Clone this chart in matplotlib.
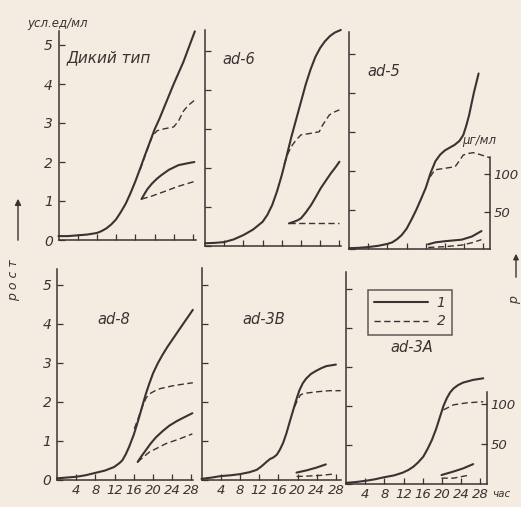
import matplotlib.pyplot as plt
from matplotlib.lines import Line2D

plt.switch_backend('agg')

W, H = 521, 507
PX_H = 4.8     # pixels per hour
PX_U = 39.0    # pixels per growth unit
PAPER = '#f4ece0'
INK = '#3a3332'

hours = [4, 8, 12, 16, 20, 24, 28]
y_ticks = [0, 1, 2, 3, 4, 5]
ug_ticks = [50, 100]

# ---------------- data (growth, arbitrary units / ml) ----------------
# wild type
wt_t = [0, 2, 4, 6, 8, 9, 10, 11, 12, 13, 14, 15, 16, 17, 18, 19, 20, 21, 22, 24, 26, 28.4]
wt_v = [0.1, 0.1, 0.12, 0.14, 0.18, 0.23, 0.3, 0.4, 0.53, 0.72, 0.93, 1.2, 1.5, 1.83,
        2.17, 2.5, 2.83, 3.1, 3.4, 4.0, 4.56, 5.35]
wt_d_t = [17, 18, 19.5, 20.5, 22, 24, 25, 26, 27, 28.3]
wt_d_v = [1.8, 2.15, 2.65, 2.8, 2.85, 2.9, 3.05, 3.3, 3.45, 3.58]
wt_low_t = [17.3, 18, 18.5, 19.5, 20.5, 21.5, 23, 25, 27, 28.3]
wt_low_v = [1.05, 1.2, 1.3, 1.45, 1.57, 1.67, 1.8, 1.92, 1.97, 2.0]
wt_lowd_t = [17.3, 19.3, 22, 24.8, 28.3]
wt_lowd_v = [1.05, 1.12, 1.24, 1.37, 1.5]

# ad-6
ad6_t = [0, 2, 4, 6, 8, 10, 12, 13, 14, 15, 16, 17, 18, 19, 20, 21, 22, 23, 24, 25, 26,
         27, 28.3]
ad6_v = [0.07, 0.08, 0.1, 0.17, 0.28, 0.42, 0.62, 0.8, 1.05, 1.4, 1.82, 2.3, 2.8, 3.25,
         3.7, 4.15, 4.53, 4.85, 5.08, 5.25, 5.38, 5.47, 5.54]
ad6_d_t = [16.5, 17.3, 18.2, 19, 20, 22.1, 23.8, 24.5, 25.9, 27, 28]
ad6_d_v = [2.1, 2.38, 2.59, 2.72, 2.85, 2.89, 2.93, 3.1, 3.36, 3.44, 3.49]
ad6_low_t = [17.5, 18.5, 19.3, 20, 21, 22.1, 23.1, 24.1, 25.2, 26.2, 27.2, 28]
ad6_low_v = [0.58, 0.62, 0.66, 0.71, 0.86, 1.05, 1.26, 1.48, 1.68, 1.86, 2.02, 2.16]
ad6_lowd_t = [17.5, 28]
ad6_lowd_v = [0.58, 0.58]

# ad-5
ad5_t = [0, 2, 4, 6, 8, 9, 10, 11, 12, 13, 14, 15, 16, 17, 18, 19, 20, 21, 22, 23, 23.8,
         24.4, 25, 26, 27]
ad5_v = [0.02, 0.03, 0.05, 0.08, 0.13, 0.17, 0.25, 0.36, 0.52, 0.75, 1.0, 1.28, 1.57,
         1.95, 2.25, 2.42, 2.53, 2.6, 2.67, 2.77, 2.92, 3.15, 3.42, 4.0, 4.5]
ad5_d_t = [16.9, 17.9, 20, 22.1, 23.1, 23.8, 24.9, 25.9, 27.6, 29.3]
ad5_d_v = [1.85, 2.03, 2.07, 2.11, 2.28, 2.41, 2.45, 2.47, 2.41, 2.34]
ad5_low_t = [16.5, 18, 20, 23.5, 25.6, 27.6]
ad5_low_v = [0.12, 0.17, 0.2, 0.24, 0.32, 0.46]
ad5_lowd_t = [16.5, 20, 23.5, 25.6, 27.6]
ad5_lowd_v = [0.04, 0.06, 0.1, 0.16, 0.24]

# ad-8
ad8_t = [0, 2, 4, 6, 8, 10, 11.9, 13, 13.6, 14.3, 15, 16, 17, 18, 18.5, 19.2, 20, 21, 22,
         23, 24, 26, 28.3]
ad8_v = [0.03, 0.05, 0.07, 0.11, 0.17, 0.23, 0.32, 0.42, 0.49, 0.64, 0.83, 1.15, 1.55,
         1.98, 2.19, 2.45, 2.72, 2.98, 3.2, 3.4, 3.58, 3.94, 4.35]
ad8_d_t = [16.1, 17, 17.8, 18.6, 19.6, 20.5, 21.5, 24, 26, 28.3]
ad8_d_v = [1.3, 1.6, 1.87, 2.1, 2.22, 2.28, 2.33, 2.4, 2.44, 2.48]
ad8_low_t = [16.8, 17.5, 18.5, 19.5, 20.6, 22, 23.4, 25, 26.1, 28.2]
ad8_low_v = [0.45, 0.58, 0.75, 0.92, 1.08, 1.24, 1.38, 1.5, 1.57, 1.7]
ad8_lowd_t = [16.8, 19.2, 22.7, 25.5, 28.2]
ad8_lowd_v = [0.45, 0.7, 0.92, 1.04, 1.17]

# ad-3B
ad3b_t = [0, 2, 4, 6, 8, 10, 11.5, 12.5, 13.6, 14.3, 15, 15.7, 16.3, 17, 17.7, 18.4, 19.1,
          19.8, 20.4, 21.1, 21.8, 22.8, 23.9, 25, 26, 28]
ad3b_v = [0.03, 0.06, 0.1, 0.12, 0.15, 0.2, 0.26, 0.35, 0.47, 0.54, 0.58, 0.65, 0.77, 0.95,
          1.2, 1.5, 1.79, 2.08, 2.3, 2.48, 2.6, 2.72, 2.8, 2.87, 2.92, 2.96]
ad3b_d_t = [19.4, 20, 20.6, 21.3, 23.9, 26.6, 29]
ad3b_d_v = [1.88, 2.05, 2.18, 2.22, 2.26, 2.29, 2.29]
ad3b_low_t = [19.8, 22, 24, 25.9]
ad3b_low_v = [0.19, 0.25, 0.32, 0.4]
ad3b_lowd_t = [19.8, 22, 25, 27.3]
ad3b_lowd_v = [0.09, 0.1, 0.12, 0.15]

# ad-3A
ad3a_t = [0, 2, 4, 6, 7.8, 10, 11.8, 13, 14, 15, 16.1, 17, 17.9, 18.8, 19.6, 20.3, 21,
          21.7, 22.4, 23.4, 24.4, 26.5, 28.6]
ad3a_v = [0.03, 0.05, 0.08, 0.12, 0.17, 0.22, 0.29, 0.36, 0.44, 0.55, 0.7, 0.9, 1.13,
          1.42, 1.73, 2.0, 2.2, 2.35, 2.45, 2.54, 2.6, 2.67, 2.71]
ad3a_d_t = [20.3, 22.4, 25.1, 28.6]
ad3a_d_v = [1.9, 2.03, 2.08, 2.11]
ad3a_low_t = [19.9, 22.4, 24.4, 26.5]
ad3a_low_v = [0.23, 0.32, 0.4, 0.51]
ad3a_lowd_t = [19.9, 22.4, 25.8]
ad3a_lowd_v = [0.15, 0.15, 0.23]

# panel name, (spine x px, bottom y px, xmax, ymax), curves, title pos px
panels = [
    ('Дикий тип', (58.5, 240, 28.6, 5.35),
     (wt_t, wt_v, wt_d_t, wt_d_v, wt_low_t, wt_low_v, wt_lowd_t, wt_lowd_v), (67, 58)),
    ('ad-6', (205, 246, 28.4, 5.55),
     (ad6_t, ad6_v, ad6_d_t, ad6_d_v, ad6_low_t, ad6_low_v, ad6_lowd_t, ad6_lowd_v), (222, 60)),
    ('ad-5', (349, 249, 29.3, 5.56),
     (ad5_t, ad5_v, ad5_d_t, ad5_d_v, ad5_low_t, ad5_low_v, ad5_lowd_t, ad5_lowd_v), (367, 71)),
    ('ad-8', (57, 479.5, 28.4, 5.4),
     (ad8_t, ad8_v, ad8_d_t, ad8_d_v, ad8_low_t, ad8_low_v, ad8_lowd_t, ad8_lowd_v), (97, 319)),
    ('ad-3B', (201.5, 480, 29.1, 5.43),
     (ad3b_t, ad3b_v, ad3b_d_t, ad3b_d_v, ad3b_low_t, ad3b_low_v, ad3b_lowd_t, ad3b_lowd_v), (242, 319)),
    ('ad-3A', (346, 484, 29.3, 5.44),
     (ad3a_t, ad3a_v, ad3a_d_t, ad3a_d_v, ad3a_low_t, ad3a_low_v, ad3a_lowd_t, ad3a_lowd_v), (390, 348)),
]

fig = plt.figure(figsize=(W / 100, H / 100), dpi=100, facecolor=PAPER)

SOLID = dict(color=INK, lw=1.5, solid_capstyle='round', solid_joinstyle='round')
DASH = dict(color=INK, lw=1.0, dashes=(4.5, 2.5))

def fx(px):
    return px / W

def fy(py):
    return 1 - py / H

axes = []
for i, (name, (left, bottom, xmax, ymax), curves, tpos) in enumerate(panels):
    ax = fig.add_axes([fx(left), fy(bottom), xmax * PX_H / W, ymax * PX_U / H])
    ax.set_xlim(0, xmax)
    ax.set_ylim(0, ymax)
    ax.patch.set_alpha(0)
    ax.spines['top'].set_visible(False)
    ax.spines['right'].set_visible(False)
    for s in ('left', 'bottom'):
        ax.spines[s].set_color(INK)
        ax.spines[s].set_linewidth(1.1)
    ax.set_xticks(hours)
    ax.set_yticks(y_ticks)
    ax.tick_params(direction='in', length=4, width=0.9, color=INK, labelcolor=INK)
    ax.tick_params(axis='y', pad=4, labelsize=10)
    ax.tick_params(axis='x', pad=3, labelsize=9.5)
    if i in (0, 3):
        ax.set_yticklabels([str(v) for v in y_ticks], style='italic')
    else:
        ax.set_yticklabels([])
    if i >= 3:
        ax.set_xticklabels([str(h) for h in hours], style='italic')
    else:
        ax.set_xticklabels([])

    t, v, dt, dv, lt, lv, ldt, ldv = curves
    ax.plot(t, v, **SOLID)
    ax.plot(dt, dv, **DASH)
    ax.plot(lt, lv, **SOLID)
    ax.plot(ldt, ldv, **DASH)
    for ln in ax.lines:
        ln.set_clip_on(False)

    fig.text(fx(tpos[0]), fy(tpos[1]), name, fontsize=11 if i == 0 else 10.5,
             style='italic', color=INK, va='center', ha='left')
    axes.append(ax)

# right-hand µg/ml axes on ad-5 and ad-3A
for ax, k, top in ((axes[2], 52, 123), (axes[5], 49, 116)):
    ax2 = ax.twinx()
    ax2.set_ylim(0, ax.get_ylim()[1] * k)
    for s in ('top', 'left', 'bottom'):
        ax2.spines[s].set_visible(False)
    ax2.spines['right'].set_color(INK)
    ax2.spines['right'].set_linewidth(1.1)
    ax2.spines['right'].set_bounds(0, top)
    ax2.set_yticks(ug_ticks)
    ax2.set_yticklabels([str(u) for u in ug_ticks], style='italic')
    ax2.tick_params(direction='in', length=4, width=0.9, color=INK,
                    labelcolor=INK, labelsize=9.5, pad=3)
    ax2.patch.set_alpha(0)

fig.text(fx(462), fy(140), 'μг/мл', fontsize=8.5, style='italic', color=INK,
         va='center', ha='left')
fig.text(fx(27), fy(24), 'усл.ед/мл', fontsize=8.5, style='italic', color=INK,
         va='center', ha='left')
fig.text(fx(492), fy(494), 'час', fontsize=7.5, style='italic', color=INK,
         va='center', ha='left')

# side labels with arrows
fig.text(fx(14), fy(280), 'р о с т', fontsize=9, style='italic', color=INK,
         rotation=90, va='center', ha='center')
axes[0].annotate('', xy=(fx(18), fy(196)), xytext=(fx(18), fy(243)),
                 xycoords='figure fraction', textcoords='figure fraction',
                 arrowprops=dict(arrowstyle='-|>', color=INK, lw=1.0,
                                 mutation_scale=9))
fig.text(fx(515), fy(300), 'р', fontsize=9, style='italic', color=INK,
         rotation=90, va='center', ha='center')
axes[0].annotate('', xy=(fx(516), fy(251)), xytext=(fx(516), fy(280)),
                 xycoords='figure fraction', textcoords='figure fraction',
                 arrowprops=dict(arrowstyle='-|>', color=INK, lw=1.0,
                                 mutation_scale=8))

# legend in the ad-3A panel
handles = [Line2D([], [], **SOLID), Line2D([], [], **DASH)]
leg = fig.legend(handles, ['1', '2'], loc='upper left',
                 bbox_to_anchor=(fx(368), fy(290)), bbox_transform=fig.transFigure,
                 borderaxespad=0, frameon=True, fancybox=False, handlelength=3.9,
                 handletextpad=0.6, labelspacing=0.3, borderpad=0.45,
                 prop=dict(style='italic', size=10))
leg.get_frame().set_edgecolor(INK)
leg.get_frame().set_linewidth(1.1)
leg.get_frame().set_facecolor('none')
for txt in leg.get_texts():
    txt.set_color(INK)

fig.savefig('out.png', dpi=100, facecolor=PAPER)
